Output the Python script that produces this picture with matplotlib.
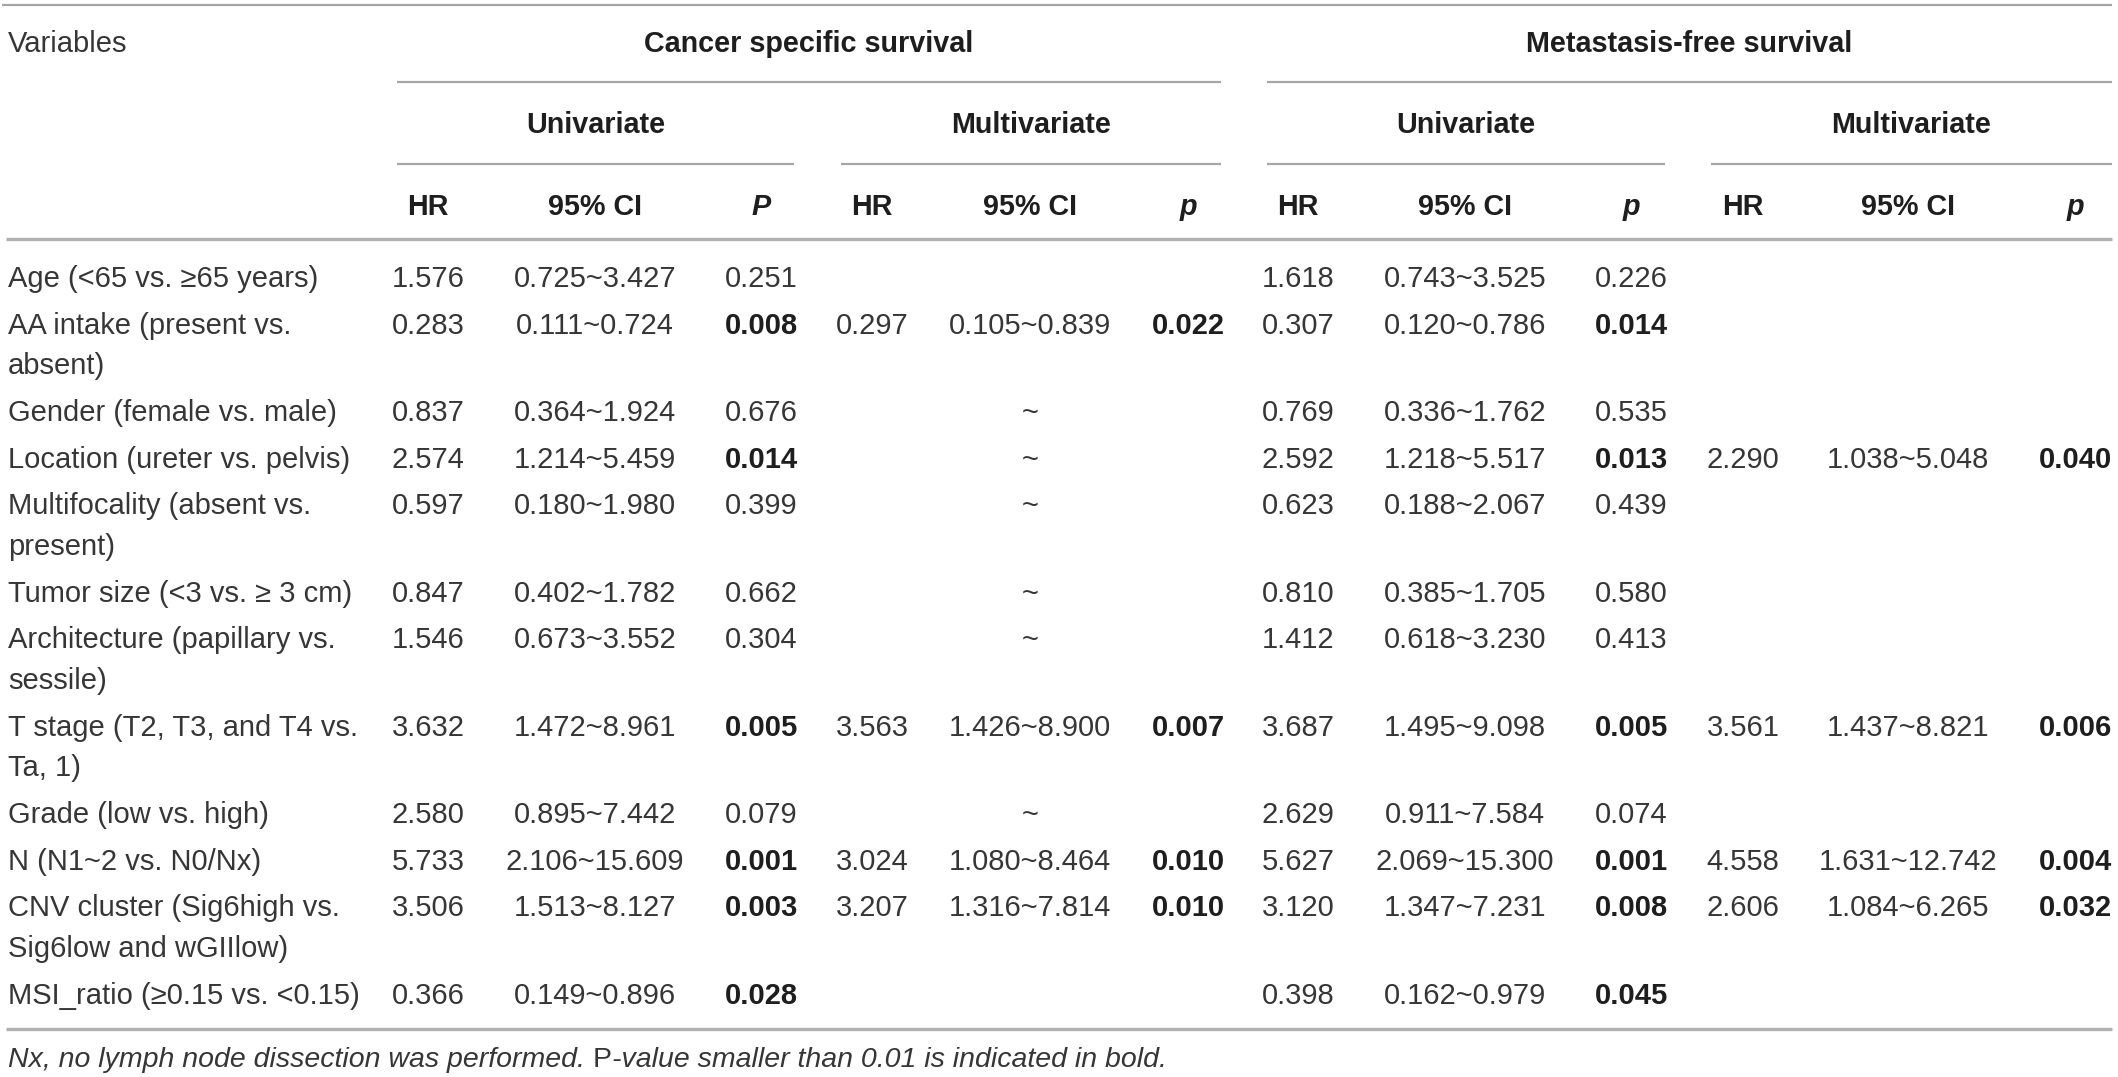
import matplotlib.pyplot as plt

plt.rcParams['font.family'] = ['Liberation Sans', 'DejaVu Sans']

variables = [
    'Age (<65 vs. \u226565 years)',
    'AA intake (present vs.\nabsent)',
    'Gender (female vs. male)',
    'Location (ureter vs. pelvis)',
    'Multifocality (absent vs.\npresent)',
    'Tumor size (<3 vs. \u2265 3 cm)',
    'Architecture (papillary vs.\nsessile)',
    'T stage (T2, T3, and T4 vs.\nTa, 1)',
    'Grade (low vs. high)',
    'N (N1~2 vs. N0/Nx)',
    'CNV cluster (Sig6high vs.\nSig6low and wGIIlow)',
    'MSI_ratio (\u22650.15 vs. <0.15)',
]

# cancer specific survival
css_uni_hr = [1.576, 0.283, 0.837, 2.574, 0.597, 0.847, 1.546, 3.632, 2.580, 5.733, 3.506, 0.366]
css_uni_ci = ['0.725~3.427', '0.111~0.724', '0.364~1.924', '1.214~5.459', '0.180~1.980', '0.402~1.782',
              '0.673~3.552', '1.472~8.961', '0.895~7.442', '2.106~15.609', '1.513~8.127', '0.149~0.896']
css_uni_p = [0.251, 0.008, 0.676, 0.014, 0.399, 0.662, 0.304, 0.005, 0.079, 0.001, 0.003, 0.028]
css_multi_hr = [None, 0.297, None, None, None, None, None, 3.563, None, 3.024, 3.207, None]
css_multi_ci = ['', '0.105~0.839', '~', '~', '~', '~', '~', '1.426~8.900', '~', '1.080~8.464', '1.316~7.814', '']
css_multi_p = [None, 0.022, None, None, None, None, None, 0.007, None, 0.010, 0.010, None]

# metastasis-free survival
mfs_uni_hr = [1.618, 0.307, 0.769, 2.592, 0.623, 0.810, 1.412, 3.687, 2.629, 5.627, 3.120, 0.398]
mfs_uni_ci = ['0.743~3.525', '0.120~0.786', '0.336~1.762', '1.218~5.517', '0.188~2.067', '0.385~1.705',
              '0.618~3.230', '1.495~9.098', '0.911~7.584', '2.069~15.300', '1.347~7.231', '0.162~0.979']
mfs_uni_p = [0.226, 0.014, 0.535, 0.013, 0.439, 0.580, 0.413, 0.005, 0.074, 0.001, 0.008, 0.045]
mfs_multi_hr = [None, None, None, 2.290, None, None, None, 3.561, None, 4.558, 2.606, None]
mfs_multi_ci = ['', '', '', '1.038~5.048', '', '', '', '1.437~8.821', '', '1.631~12.742', '1.084~6.265', '']
mfs_multi_p = [None, None, None, 0.040, None, None, None, 0.006, None, 0.004, 0.032, None]

groups = ['Cancer specific survival', 'Metastasis-free survival']
subgroups = ['Univariate', 'Multivariate', 'Univariate', 'Multivariate']
col_heads = ['HR', '95% CI', 'P', 'HR', '95% CI', 'p', 'HR', '95% CI', 'p', 'HR', '95% CI', 'p']
footnote = ['Nx, no lymph node dissection was performed. ', 'P', '-value smaller than 0.01 is indicated in bold.']

W, H = 2118, 1077
fig = plt.figure(figsize=(W / 100, H / 100), dpi=100)
ax = fig.add_axes([0, 0, 1, 1])
ax.set_xlim(0, W)
ax.set_ylim(H, 0)
ax.axis('off')

FS = 21
TXT = '#363636'
HEAD = '#1e1e1e'
LINE = '#a6a6a6'

col_x = [428, 595, 761, 872, 1030, 1188, 1298, 1465, 1631, 1743, 1908, 2075]
group_span = [(397, 1221), (1267, 2112)]
sub_span = [(397, 794), (841, 1221), (1267, 1665), (1711, 2112)]

# rules
ax.hlines(5, 2, 2112, color=LINE, lw=1.6)
for (a, b) in group_span:
    ax.hlines(82, a, b, color=LINE, lw=1.6)
for (a, b) in sub_span:
    ax.hlines(164, a, b, color=LINE, lw=1.6)
ax.hlines(239, 6, 2112, color='#b0b0b0', lw=2.4)
ax.hlines(1029, 6, 2112, color='#b0b0b0', lw=2.4)

# header
ax.text(8, 52, 'Variables', fontsize=FS, color=TXT, ha='left', va='baseline')
for g, (a, b) in zip(groups, group_span):
    ax.text((a + b) / 2, 52, g, fontsize=FS - 0.3, fontweight='bold', color=HEAD, ha='center', va='baseline')
for s, (a, b) in zip(subgroups, sub_span):
    ax.text((a + b) / 2, 133, s, fontsize=FS - 0.3, fontweight='bold', color=HEAD, ha='center', va='baseline')
for h, x in zip(col_heads, col_x):
    style = 'italic' if h in ('P', 'p') else 'normal'
    ax.text(x, 215, h, fontsize=FS - 0.3, fontweight='bold', fontstyle=style, color=HEAD,
            ha='center', va='baseline')

# body
columns = [
    (css_uni_hr, css_uni_ci, css_uni_p),
    (css_multi_hr, css_multi_ci, css_multi_p),
    (mfs_uni_hr, mfs_uni_ci, mfs_uni_p),
    (mfs_multi_hr, mfs_multi_ci, mfs_multi_p),
]

y = 277
for i, label in enumerate(variables):
    lines = label.split('\n')
    for k, line in enumerate(lines):
        ax.text(8, y + 10 + k * 41, line, fontsize=FS, color=TXT, ha='left', va='baseline')
    for j, (hr, ci, p) in enumerate(columns):
        xs = col_x[j * 3:j * 3 + 3]
        if hr[i] is not None:
            ax.text(xs[0], y + 10, f'{hr[i]:.3f}', fontsize=FS, color=TXT, ha='center', va='baseline')
        if ci[i]:
            ax.text(xs[1], y + 10, ci[i], fontsize=FS, color=TXT, ha='center', va='baseline')
        if p[i] is not None:
            bold = p[i] < 0.05
            ax.text(xs[2], y + 10, f'{p[i]:.3f}', fontsize=FS, color=HEAD if bold else TXT,
                    fontweight='bold' if bold else 'normal', ha='center', va='baseline')
    y += 46.5 + 41 * (len(lines) - 1)

# footnote, pieces placed one after the other
fig.canvas.draw()
renderer = fig.canvas.get_renderer()
x = 8
for k, piece in enumerate(footnote):
    t = ax.text(x, 1067, piece, fontsize=20.5, color=TXT, fontstyle='normal' if k == 1 else 'italic',
                ha='left', va='baseline')
    bb = t.get_window_extent(renderer=renderer)
    x += bb.width

fig.savefig('out.png', dpi=100)
